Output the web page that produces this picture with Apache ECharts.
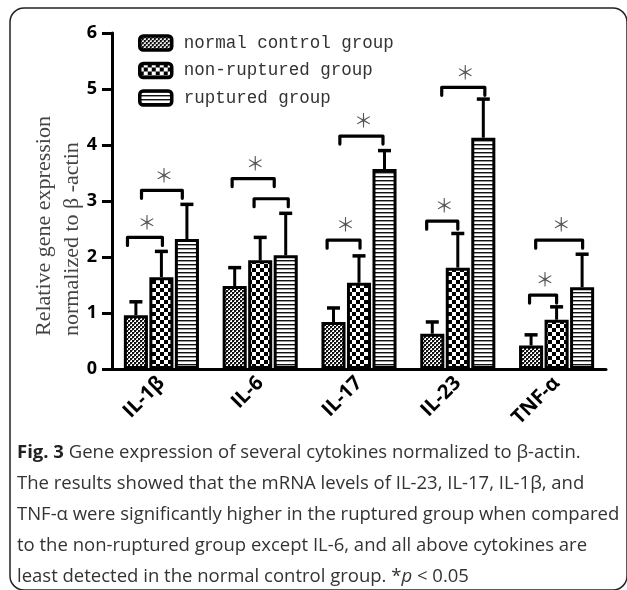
<!DOCTYPE html>
<html>
<head>
<meta charset="utf-8">
<script src="https://cdn.jsdelivr.net/npm/echarts@6/dist/echarts.min.js"></script>
<style>
html,body{margin:0;padding:0;background:#fff;}
#chart{width:627px;height:590px;}
</style>
</head>
<body>
<div id="chart"></div>
<script>
// ---- data ----
const categories = ['IL-1β', 'IL-6', 'IL-17', 'IL-23', 'TNF-α'];
const seriesNames = ['normal control group', 'non-ruptured group', 'ruptured group'];
const normalMean = [0.96, 1.48, 0.84, 0.63, 0.42];
const normalErr = [0.24, 0.33, 0.25, 0.21, 0.19];
const nonRupturedMean = [1.64, 1.94, 1.54, 1.81, 0.88];
const nonRupturedErr = [0.46, 0.41, 0.48, 0.61, 0.23];
const rupturedMean = [2.32, 2.03, 3.57, 4.13, 1.46];
const rupturedErr = [0.62, 0.75, 0.33, 0.69, 0.59];
const yTicks = [0, 1, 2, 3, 4, 5, 6];
const yAxisTitle = ['Relative gene expression', 'normalized to β -actin'];
// significance brackets: category, level (y value), span in bar slots, star
const bracketCategory = [0, 0, 1, 1, 2, 2, 3, 3, 4, 4];
const bracketLevel = [2.35, 3.19, 3.40, 3.04, 4.16, 2.30, 5.03, 2.64, 2.30, 1.32];
const bracketFrom = [-1.33, -0.78, -1.10, -0.24, -0.75, -1.25, -0.63, -1.22, -0.82, -1.06];
const bracketTo = [0.04, 0.82, 0.55, 1.10, 0.94, 0.04, 1.06, 0.00, 1.02, 0.00];
const bracketStar = [1, 1, 1, 0, 1, 1, 1, 1, 1, 1];
const captionLines = [
  '{b|Fig. 3} Gene expression of several cytokines normalized to β-actin.',
  'The results showed that the mRNA levels of IL-23, IL-17, IL-1β, and',
  'TNF-α were significantly higher in the ruptured group when compared',
  'to the non-ruptured group except IL-6, and all above cytokines are',
  'least detected in the normal control group. *{i|p} < 0.05'
];

// ---- patterns ----
function makePattern(kind) {
  const c = document.createElement('canvas');
  const ctx = c.getContext('2d');
  if (kind === 0) {
    c.width = 4; c.height = 4;
    ctx.fillStyle = '#fff'; ctx.fillRect(0, 0, 4, 4);
    ctx.fillStyle = '#111';
    ctx.fillRect(0, 0, 2, 2); ctx.fillRect(2, 2, 2, 2);
    ctx.fillStyle = '#777';
    ctx.fillRect(2, 0, 1, 1); ctx.fillRect(0, 2, 1, 1);
  } else if (kind === 1) {
    c.width = 8; c.height = 8;
    ctx.fillStyle = '#fff'; ctx.fillRect(0, 0, 8, 8);
    ctx.fillStyle = '#000';
    ctx.fillRect(0, 0, 4, 4); ctx.fillRect(4, 4, 4, 4);
  } else {
    c.width = 4; c.height = 4;
    ctx.fillStyle = '#fff'; ctx.fillRect(0, 0, 4, 4);
    ctx.fillStyle = '#111'; ctx.fillRect(0, 0, 4, 1);
    ctx.fillStyle = '#999'; ctx.fillRect(0, 1, 4, 1);
  }
  return { image: c, repeat: 'repeat' };
}

const CAT_GAP = 0.24, BAR_GAP = 0.06;
function barGeom(api) {
  const catW = api.size([1, 0])[0];
  const barW = catW * (1 - CAT_GAP) / (3 + 2 * BAR_GAP);
  return { catW: catW, barW: barW, slot: barW * (1 + BAR_GAP) };
}

const means = [normalMean, nonRupturedMean, rupturedMean];
const errs = [normalErr, nonRupturedErr, rupturedErr];

const series = [];
for (let s = 0; s < 3; s++) {
  series.push({
    name: seriesNames[s],
    type: 'bar',
    data: means[s],
    barGap: (BAR_GAP * 100) + '%',
    barCategoryGap: (CAT_GAP * 100) + '%',
    itemStyle: { color: makePattern(s), borderColor: '#000', borderWidth: 3 },
    z: 3
  });
}
for (let s = 0; s < 3; s++) {
  const d = categories.map((c, i) => [i, means[s][i], means[s][i] + errs[s][i]]);
  series.push({
    type: 'custom',
    data: d,
    z: 2,
    silent: true,
    renderItem: (function (si) {
      return function (params, api) {
        const g = barGeom(api);
        const base = api.coord([api.value(0), api.value(1)]);
        const top = api.coord([api.value(0), api.value(2)]);
        const x = base[0] + (si - 1) * g.slot;
        const cap = 6.5;
        return {
          type: 'group',
          children: [
            { type: 'line', shape: { x1: x, y1: base[1], x2: x, y2: top[1] }, style: { stroke: '#000', lineWidth: 3 } },
            { type: 'line', shape: { x1: x - cap, y1: top[1], x2: x + cap, y2: top[1] }, style: { stroke: '#000', lineWidth: 3.5 } }
          ]
        };
      };
    })(s)
  });
}
series.push({
  type: 'custom',
  silent: true,
  z: 4,
  data: bracketCategory.map((c, i) => [c, bracketLevel[i], bracketFrom[i], bracketTo[i], bracketStar[i]]),
  renderItem: function (params, api) {
    const g = barGeom(api);
    const p = api.coord([api.value(0), api.value(1)]);
    const x0 = p[0] + api.value(2) * g.slot;
    const x1 = p[0] + api.value(3) * g.slot;
    const y = p[1];
    const leg = 8;
    const children = [{
      type: 'polyline',
      shape: { points: [[x0, y + leg], [x0, y], [x1, y], [x1, y + leg]] },
      style: { stroke: '#000', lineWidth: 3.2, fill: null, lineCap: 'round', lineJoin: 'round' }
    }];
    if (api.value(4)) {
      children.push({
        type: 'text',
        x: (x0 + x1) / 2 + 2,
        y: y - 15,
        style: { text: '＊', fontFamily: 'Noto Sans CJK JP', fontSize: 19, fill: '#555', align: 'center', verticalAlign: 'middle' }
      });
    }
    return { type: 'group', children: children };
  }
});

const chart = echarts.init(document.getElementById('chart'), null, { renderer: 'canvas' });
chart.setOption({
  animation: false,
  backgroundColor: '#fff',
  grid: { left: 112, right: 21, top: 33, bottom: 221, containLabel: false },
  legend: {
    data: seriesNames,
    orient: 'vertical',
    left: 138,
    top: 34,
    itemWidth: 32,
    itemHeight: 14,
    itemGap: 9.5,
    padding: 0,
    icon: 'roundRect',
    itemStyle: { borderColor: '#000', borderWidth: 3.5 },
    textStyle: { fontFamily: 'Liberation Mono', fontSize: 17.5, color: '#333', padding: [0, 0, 0, 7] }
  },
  xAxis: {
    type: 'category',
    data: categories,
    axisLine: { lineStyle: { color: '#000', width: 3 } },
    axisTick: { alignWithLabel: true, length: 7, lineStyle: { color: '#000', width: 3 } },
    axisLabel: { rotate: 45, margin: 11, fontFamily: 'Open Sans', fontWeight: 'bold', fontSize: 20, color: '#000' }
  },
  yAxis: {
    type: 'value',
    min: yTicks[0],
    max: yTicks[yTicks.length - 1],
    interval: 1,
    splitLine: { show: false },
    axisLine: { show: true, lineStyle: { color: '#000', width: 3 } },
    axisTick: { show: true, length: 10, lineStyle: { color: '#000', width: 3 } },
    axisLabel: { margin: 15, fontFamily: 'Open Sans', fontWeight: 'bold', fontSize: 18, color: '#000' }
  },
  series: series,
  graphic: [
    {
      type: 'rect',
      shape: { x: 10, y: 8, width: 617, height: 582, r: 14 },
      style: { fill: null, stroke: '#222', lineWidth: 1.5 },
      silent: true
    },
    {
      type: 'text',
      x: 58,
      y: 336,
      rotation: Math.PI / 2,
      style: {
        text: yAxisTitle.join('\n'),
        fontFamily: 'Liberation Serif',
        fontSize: 22,
        lineHeight: 28,
        fill: '#444',
        align: 'left',
        verticalAlign: 'middle'
      }
    },
    {
      type: 'text',
      x: 17,
      y: 437,
      style: {
        text: captionLines.join('\n'),
        fontFamily: 'Open Sans',
        fontSize: 18.5,
        lineHeight: 31,
        fill: '#333',
        rich: {
          b: { fontFamily: 'Open Sans', fontWeight: 'bold', fontSize: 18.5, lineHeight: 31, fill: '#222' },
          i: { fontFamily: 'Open Sans', fontStyle: 'italic', fontSize: 18.5, lineHeight: 31, fill: '#333' }
        }
      }
    }
  ]
});
</script>
</body>
</html>
